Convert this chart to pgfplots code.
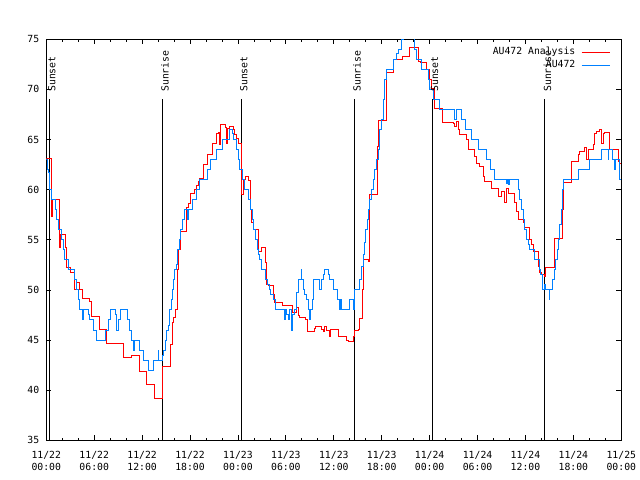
\documentclass[border=0pt]{standalone}
\usepackage{fontspec}
\setmainfont{DejaVu Sans Mono}
\usepackage{pgfplots}
\usepackage{pgfplotstable}
\pgfplotsset{compat=1.18}
\definecolor{gred}{RGB}{255,0,0}
\definecolor{gblue}{RGB}{0,128,255}
\newcommand{\gf}{\fontsize{9.8bp}{12bp}\selectfont}

\pgfplotstableread{
h T
0 63.1
0.68 57.3
0.8 59.0
1.63 54.2
1.8 55.5
2.38 54.2
2.55 52.2
3.05 51.7
3.59 50.0
3.8 50.7
4.13 50.0
4.55 49.1
5.38 48.8
5.63 47.3
6.63 46.1
7.55 44.7
9.68 43.3
10.68 43.5
11.64 41.9
12.56 40.6
13.6 39.2
14.52 42.4
15.56 44.6
15.77 46.8
15.98 47.2
16.23 48.0
16.44 52.0
16.6 54.0
16.77 55.8
17.56 58.2
17.8 58.6
18.0 59.6
18.52 60.0
18.75 60.4
19.0 60.8
19.23 61.1
19.73 62.5
20.15 63.5
20.78 64.6
21.32 65.6
21.53 65.7
21.74 64.5
21.82 66.5
22.44 66.2
22.6 64.6
22.7 66.1
22.99 66.3
23.4 66.0
23.6 65.5
23.82 65.1
24.03 64.6
24.45 59.5
24.74 61.0
24.99 61.3
25.28 60.9
25.58 58.0
25.7 56.7
25.91 56.0
26.54 53.8
26.95 54.2
27.45 52.7
27.57 50.5
27.79 50.4
28.41 49.5
28.62 48.7
29.58 48.4
30.79 47.7
31.33 48.2
31.54 47.4
31.66 47.2
32.5 47.0
32.66 45.9
33.55 46.2
33.75 46.4
34.46 46.1
34.7 45.9
34.88 46.4
35.1 46.0
35.5 45.4
35.63 46.1
36.55 45.4
37.59 45.0
37.8 44.9
38.43 45.4
38.63 46.0
39.05 46.1
39.26 47.1
39.55 50.0
39.76 53.0
40.1 53.0
40.3 52.8
40.43 54.3
40.51 59.5
41.48 64.3
41.64 66.9
42.6 71.7
43.51 73.0
44.61 73.3
45.52 74.2
46.56 72.8
46.86 72.7
47.6 72.0
47.94 71.0
48.23 70.1
48.65 68.1
49.57 66.7
50.94 66.6
51.15 66.3
51.36 66.8
51.57 66.0
51.78 65.5
52.61 65.0
52.82 64.0
53.65 63.3
53.86 62.6
54.28 62.3
54.7 61.3
54.91 60.8
55.74 60.1
56.58 59.3
56.99 59.8
57.41 58.7
57.62 60.1
57.83 59.6
58.66 58.7
58.87 57.8
59.08 57.0
59.71 56.7
59.91 56.2
60.54 55.0
60.75 54.5
60.96 53.8
61.58 52.3
61.79 51.7
62.0 51.5
62.33 51.3
62.54 52.2
63.58 55.1
64.62 58.0
64.79 60.7
65.75 62.8
66.59 63.5
66.8 63.8
67.42 64.2
67.63 63.0
67.84 64.0
68.47 64.5
68.67 65.6
68.88 65.8
69.3 66.0
69.51 64.6
69.72 65.6
69.93 65.7
70.55 64.0
71.6 62.8
71.72 62.6
72 62.6
}\redtab

\pgfplotstableread{
h T
0 63
0.1 62
0.25 61.7
0.46 60
0.68 59
1.09 58
1.3 57
1.5 56
1.93 55
2.13 54
2.34 53
2.76 52
3.59 51
3.8 50
4.0 49
4.13 48
4.55 47
4.63 48
5.26 47.5
5.38 47
5.88 46
6.3 45
7.43 46
7.76 47
8.09 48
8.64 47.5
8.8 46
9.01 47
9.3 48
10.18 47
10.47 46
10.72 45
10.89 44
11.1 45
11.72 44
12.14 43
12.77 42
13.48 43
14.02 44
14.1 43
14.52 43.5
14.73 44
14.94 45
15.06 46
15.27 46.5
15.48 48
15.69 49
15.81 50
15.98 51
16.1 52
16.31 52.5
16.44 54
16.65 55
16.77 56
17.06 57
17.35 58
17.65 57
17.81 58
18.31 59
18.82 60
19.23 61
20.2 62
20.57 63
21.32 64
22.07 65
22.9 66
23.28 65.6
23.5 65
23.82 64
24.03 63
24.24 62
24.58 61
24.87 60
25.28 59
25.58 58
25.83 57
26.0 56
26.25 55
26.45 54
26.6 53.5
26.75 53
26.95 52
27.5 51
27.7 50.5
27.91 50
28.1 49.5
28.41 49
28.75 48
29.87 47
29.95 48
30.1 47.5
30.3 47
30.5 48
30.65 47
30.71 46
30.85 47.5
31.13 48
31.33 49.7
31.54 51
31.9 52
31.95 51
32.17 50
32.38 49.5
32.59 49
32.8 48
33.0 47
33.1 48
33.3 49
33.5 51
34.25 50
34.45 51
34.67 51.5
34.88 52
35.3 51.5
35.5 51
35.92 50
36.42 49
36.76 48
36.9 49
37.0 48
37.93 49
38.43 48
38.63 50
39.26 51
39.47 52.3
39.68 53.5
39.89 54.7
40.0 56
40.18 57
40.35 58
40.51 59
40.72 60
40.93 61
41.14 62
41.35 63
41.56 64
41.76 66
41.97 67
42.18 69
42.39 71
42.6 72
43.43 73
43.85 73.6
44.06 74
44.48 75
44.69 76
46.15 74
46.35 73
46.98 72
47.81 71
48.02 70
48.5 69
49.2 68
51.15 67
51.36 68
51.98 67
52.53 66
53.24 65
54.07 64
55.12 63
55.62 62
56.16 61
57.6 60.6
57.7 61
57.9 60.5
58.0 61
59.08 60
59.29 59
59.5 58
59.71 57
59.91 56
60.12 55
60.4 54.5
60.54 54
61.08 53
61.7 52
61.87 51.5
62.08 50
62.4 50.5
62.54 50
62.95 49
63.05 50
63.37 51
63.58 52
63.79 53
63.96 54
64.1 55
64.3 56.5
64.45 58
64.6 60
64.75 61
66.59 62
68.05 63
69.51 64
70.34 63
70.45 64
70.89 63
71.18 62
71.3 63
71.8 61
72 61
}\bluetab

\begin{document}
\begin{tikzpicture}
\path[use as bounding box] (-46.3bp,-39.7bp) rectangle (593.7bp,440.3bp);
\begin{axis}[
  at={(0,0)}, anchor=south west,
  scale only axis, width=575bp, height=401bp,
  xmin=0, xmax=72, ymin=35, ymax=75,
  xtick={0,6,...,72},
  minor x tick num=2,
  xticklabels={{11/22\\00:00},{11/22\\06:00},{11/22\\12:00},{11/22\\18:00},{11/23\\00:00},{11/23\\06:00},{11/23\\12:00},{11/23\\18:00},{11/24\\00:00},{11/24\\06:00},{11/24\\12:00},{11/24\\18:00},{11/25\\00:00}},
  ytick={35,40,...,75},
  tick align=inside,
  major tick length=5bp, minor tick length=2.5bp,
  tick style={black, line width=0.8bp},
  axis line style={black, line width=1bp},
  font=\gf,
  xticklabel style={align=center, font=\gf, yshift=-7bp},
  yticklabel style={font=\gf, xshift=-3.5bp},
  /pgf/number format/assume math mode=true,
  legend plot pos=right,
  legend cell align=right,
  legend image code/.code={\draw[#1] (0bp,0bp) -- (28bp,0bp);},
  legend style={draw=none, fill=none, at={(rel axis cs:1,1)}, anchor=north east,
    xshift=-11bp, yshift=-6.5bp, font=\gf, inner sep=0pt, row sep=0pt,
    nodes={inner sep=1.75bp, text height=7bp, text depth=2.5bp},
    /tikz/every odd column/.append style={column sep=4bp}},
]
\addplot[black, line width=1bp, forget plot] coordinates {(0.375,35) (0.375,69.05)};
\addplot[black, line width=1bp, forget plot] coordinates {(14.52,35) (14.52,69.05)};
\addplot[black, line width=1bp, forget plot] coordinates {(24.4,35) (24.4,69.05)};
\addplot[black, line width=1bp, forget plot] coordinates {(38.55,35) (38.55,69.05)};
\addplot[black, line width=1bp, forget plot] coordinates {(48.3,35) (48.3,69.05)};
\addplot[black, line width=1bp, forget plot] coordinates {(62.42,35) (62.42,69.05)};

\addplot[gred, line width=1bp, const plot] table[x=h, y=T] {\redtab};
\addlegendentry{AU472 Analysis}
\addplot[gblue, line width=1bp, const plot] table[x=h, y=T] {\bluetab};
\addlegendentry{AU472}

\node[xshift=-1.3bp, rotate=90, anchor=north west, inner sep=0pt, font=\gf] at (axis cs:0.375,69.75) {Sunset};
\node[xshift=-1.3bp, rotate=90, anchor=north west, inner sep=0pt, font=\gf] at (axis cs:14.52,69.75) {Sunrise};
\node[xshift=-1.3bp, rotate=90, anchor=north west, inner sep=0pt, font=\gf] at (axis cs:24.4,69.75) {Sunset};
\node[xshift=-1.3bp, rotate=90, anchor=north west, inner sep=0pt, font=\gf] at (axis cs:38.55,69.75) {Sunrise};
\node[xshift=-1.3bp, rotate=90, anchor=north west, inner sep=0pt, font=\gf] at (axis cs:48.3,69.75) {Sunset};
\node[xshift=-1.3bp, rotate=90, anchor=north west, inner sep=0pt, font=\gf] at (axis cs:62.42,69.75) {Sunrise};

\node[anchor=base, font=\gf, yshift=15.3bp] at (rel axis cs:0.5,1) {Temperature for AU472 on 2024-Nov-22 (time in UTC)};
\node[xshift=-36bp, rotate=90, font=\gf] at (rel axis cs:0,0.5) {degrees F};
\end{axis}
\end{tikzpicture}
\end{document}
